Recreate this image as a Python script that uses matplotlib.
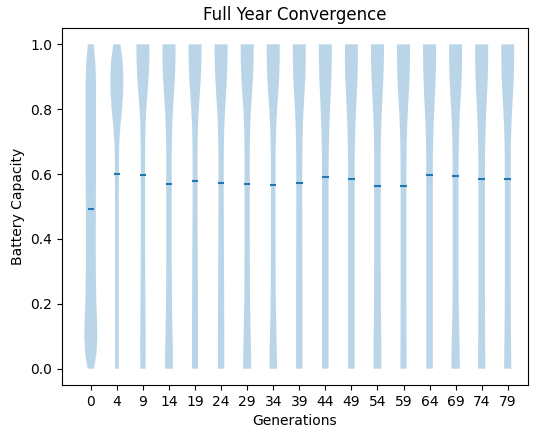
import numpy as np
import matplotlib
matplotlib.use("Agg")
import matplotlib.pyplot as plt

# generation index shown under each violin
generations = [0, 4, 9, 14, 19, 24, 29, 34, 39, 44, 49, 54, 59, 64, 69, 74, 79]

# battery capacity grid on which the densities are given
levels = [0.00, 0.05, 0.10, 0.15, 0.20, 0.25, 0.30, 0.35, 0.40, 0.45, 0.50,
          0.55, 0.60, 0.65, 0.70, 0.75, 0.80, 0.85, 0.90, 0.95, 1.00]

# relative density of the population at each level, one row per generation
densities = [
    [0.50, 0.88, 1.00, 0.95, 0.85, 0.80, 0.77, 0.76, 0.76, 0.76, 0.77, 0.78, 0.79, 0.80, 0.80, 0.80, 0.80, 0.80, 0.78, 0.68, 0.45],
    [0.28, 0.28, 0.28, 0.28, 0.28, 0.28, 0.28, 0.28, 0.28, 0.28, 0.28, 0.29, 0.30, 0.32, 0.38, 0.55, 0.80, 0.97, 1.00, 0.88, 0.55],
    [0.40, 0.42, 0.42, 0.40, 0.38, 0.36, 0.35, 0.34, 0.33, 0.33, 0.33, 0.33, 0.33, 0.33, 0.35, 0.40, 0.52, 0.70, 0.88, 0.98, 1.00],
    [0.60, 0.60, 0.55, 0.50, 0.46, 0.44, 0.43, 0.42, 0.42, 0.42, 0.42, 0.42, 0.42, 0.42, 0.44, 0.50, 0.62, 0.78, 0.92, 1.00, 1.00],
    [0.47, 0.47, 0.47, 0.46, 0.45, 0.44, 0.43, 0.42, 0.40, 0.39, 0.38, 0.38, 0.38, 0.38, 0.40, 0.46, 0.58, 0.74, 0.90, 0.98, 1.00],
    [0.50, 0.50, 0.50, 0.48, 0.47, 0.46, 0.45, 0.44, 0.43, 0.42, 0.41, 0.40, 0.40, 0.41, 0.44, 0.50, 0.62, 0.77, 0.90, 0.98, 1.00],
    [0.62, 0.60, 0.55, 0.50, 0.45, 0.43, 0.42, 0.41, 0.40, 0.40, 0.40, 0.40, 0.40, 0.40, 0.42, 0.47, 0.58, 0.75, 0.90, 0.98, 1.00],
    [0.58, 0.56, 0.50, 0.45, 0.40, 0.38, 0.37, 0.36, 0.35, 0.35, 0.35, 0.35, 0.35, 0.36, 0.40, 0.47, 0.60, 0.77, 0.92, 0.99, 1.00],
    [0.50, 0.50, 0.50, 0.50, 0.50, 0.49, 0.48, 0.48, 0.47, 0.47, 0.46, 0.46, 0.46, 0.47, 0.50, 0.56, 0.66, 0.80, 0.93, 0.99, 1.00],
    [0.50, 0.50, 0.50, 0.50, 0.50, 0.50, 0.50, 0.50, 0.50, 0.50, 0.50, 0.50, 0.50, 0.52, 0.56, 0.63, 0.72, 0.83, 0.93, 0.99, 1.00],
    [0.50, 0.50, 0.50, 0.50, 0.50, 0.50, 0.50, 0.50, 0.50, 0.50, 0.50, 0.50, 0.50, 0.51, 0.55, 0.62, 0.72, 0.84, 0.95, 1.00, 0.98],
    [0.60, 0.60, 0.58, 0.55, 0.53, 0.52, 0.51, 0.50, 0.50, 0.50, 0.50, 0.50, 0.50, 0.50, 0.52, 0.58, 0.68, 0.80, 0.92, 0.99, 1.00],
    [0.47, 0.47, 0.46, 0.46, 0.45, 0.45, 0.45, 0.45, 0.45, 0.45, 0.45, 0.45, 0.45, 0.46, 0.50, 0.57, 0.68, 0.82, 0.94, 0.99, 1.00],
    [0.50, 0.50, 0.50, 0.50, 0.50, 0.50, 0.50, 0.50, 0.50, 0.50, 0.50, 0.50, 0.50, 0.51, 0.55, 0.62, 0.73, 0.85, 0.95, 1.00, 1.00],
    [0.65, 0.63, 0.58, 0.52, 0.48, 0.46, 0.45, 0.45, 0.45, 0.45, 0.45, 0.45, 0.45, 0.46, 0.50, 0.57, 0.68, 0.82, 0.94, 0.99, 1.00],
    [0.55, 0.55, 0.53, 0.52, 0.51, 0.50, 0.50, 0.50, 0.50, 0.50, 0.50, 0.50, 0.50, 0.51, 0.55, 0.62, 0.72, 0.84, 0.95, 1.00, 1.00],
    [0.55, 0.53, 0.50, 0.48, 0.46, 0.45, 0.45, 0.45, 0.45, 0.45, 0.45, 0.45, 0.45, 0.46, 0.50, 0.57, 0.68, 0.82, 0.94, 0.99, 1.00],
]

# mean battery capacity per generation
means = [0.492, 0.600, 0.597, 0.569, 0.580, 0.572, 0.569, 0.566, 0.571,
         0.591, 0.585, 0.563, 0.563, 0.597, 0.594, 0.584, 0.584]

stats = []
for vals, m in zip(densities, means):
    stats.append({"coords": np.array(levels), "vals": np.array(vals),
                  "mean": m, "median": m, "min": 0.0, "max": 1.0})

positions = np.arange(1, len(generations) + 1)

fig = plt.figure(figsize=(5.43, 4.32), dpi=100)
ax = fig.add_axes([0.114, 0.109, 0.858, 0.826])
ax.violin(stats, positions=positions, widths=0.5,
          showmeans=True, showextrema=False, showmedians=False)

ax.set_xticks(positions)
ax.set_xticklabels([str(g) for g in generations])
ax.set_xlim(-0.11, 17.77)
ax.set_ylim(-0.05, 1.05)
ax.set_title("Full Year Convergence")
ax.set_xlabel("Generations")
ax.set_ylabel("Battery Capacity")

fig.savefig("out.png", dpi=100)
